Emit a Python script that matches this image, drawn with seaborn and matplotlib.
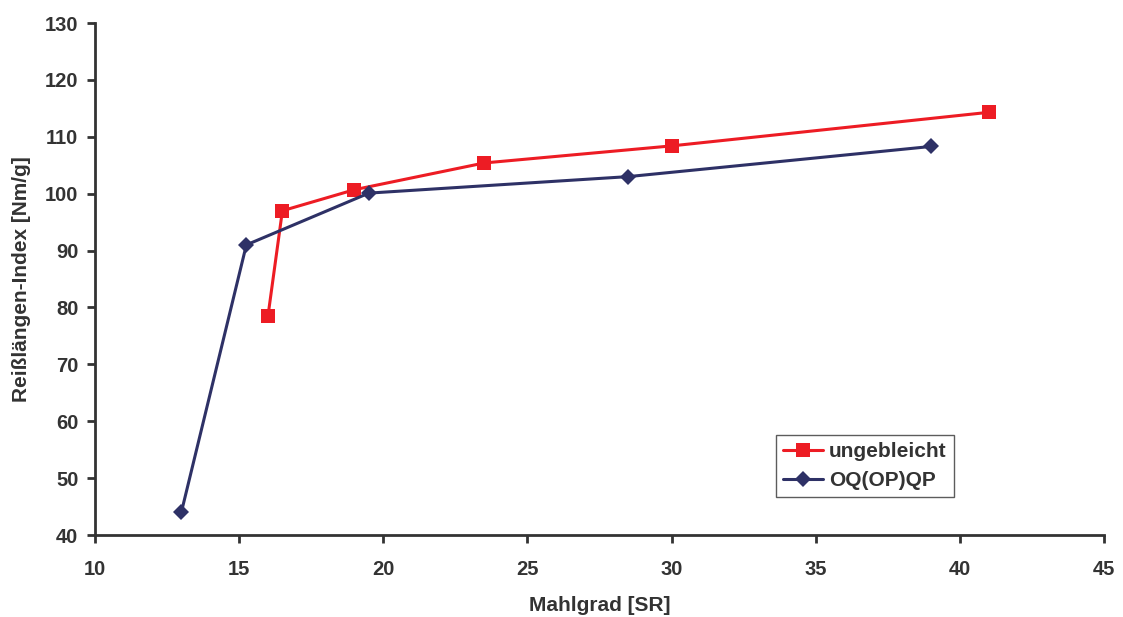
import matplotlib
matplotlib.use("Agg")
import matplotlib.pyplot as plt
import seaborn as sns
import pandas as pd

# Freeness (Mahlgrad) vs. breaking length index for two pulps
mahlgrad_ungebleicht = [16.0, 16.5, 19.0, 23.5, 30.0, 41.0]
reiss_ungebleicht = [78.5, 97.0, 100.7, 105.4, 108.4, 114.3]

mahlgrad_oqopqp = [13.0, 15.25, 19.5, 28.5, 39.0]
reiss_oqopqp = [44.1, 91.0, 100.1, 103.0, 108.3]

series_names = ["ungebleicht", "OQ(OP)QP"]
x_ticks = [10, 15, 20, 25, 30, 35, 40, 45]
y_ticks = [40, 50, 60, 70, 80, 90, 100, 110, 120, 130]

df = pd.concat([
    pd.DataFrame({"Mahlgrad": mahlgrad_ungebleicht, "Index": reiss_ungebleicht, "Serie": series_names[0]}),
    pd.DataFrame({"Mahlgrad": mahlgrad_oqopqp, "Index": reiss_oqopqp, "Serie": series_names[1]}),
], ignore_index=True)

sns.set_style("ticks")
plt.rcParams["font.family"] = ["Liberation Sans", "DejaVu Sans"]
plt.rcParams["font.weight"] = "bold"

fig = plt.figure(figsize=(11.23, 6.17), dpi=100)
ax = fig.add_axes([0.0846, 0.1329, 0.8985, 0.8298])

palette = {series_names[0]: "#ED1C24", series_names[1]: "#2E3166"}
markers = {series_names[0]: "s", series_names[1]: "D"}
sizes = {series_names[0]: 10, series_names[1]: 8}

for name in series_names:
    sub = df[df["Serie"] == name]
    sns.lineplot(data=sub, x="Mahlgrad", y="Index", sort=False, ax=ax,
                 color=palette[name], marker=markers[name],
                 markersize=sizes[name], markeredgewidth=0,
                 linewidth=2.2, label=name)

ax.set_xlim(10, 45)
ax.set_ylim(40, 130)
ax.set_xticks(x_ticks)
ax.set_yticks(y_ticks)

spine_color = "#333333"
for side in ["top", "right"]:
    ax.spines[side].set_visible(False)
for side in ["left", "bottom"]:
    ax.spines[side].set_color(spine_color)
    ax.spines[side].set_linewidth(2.0)

ax.tick_params(axis="both", direction="out", length=6, width=2.0,
               color=spine_color, labelsize=14.5, labelcolor="#333333")
ax.tick_params(axis="x", pad=12)
ax.tick_params(axis="y", pad=6)
for lbl in ax.get_xticklabels() + ax.get_yticklabels():
    lbl.set_fontweight("bold")

ax.set_xlabel("Mahlgrad [SR]", fontsize=15, fontweight="bold", color="#333333", labelpad=12)
ax.set_ylabel("Reißlängen-Index [Nm/g]", fontsize=15, fontweight="bold", color="#333333", labelpad=10)

leg = ax.legend(loc="lower left", bbox_to_anchor=(0.675, 0.074), frameon=True,
                fancybox=False, edgecolor="#333333", fontsize=15,
                handlelength=1.9, handletextpad=0.3, borderpad=0.35,
                labelspacing=0.45, borderaxespad=0)
leg.get_frame().set_linewidth(1.0)
for t in leg.get_texts():
    t.set_fontweight("bold")
    t.set_color("#333333")

fig.savefig("out.png", dpi=100)
